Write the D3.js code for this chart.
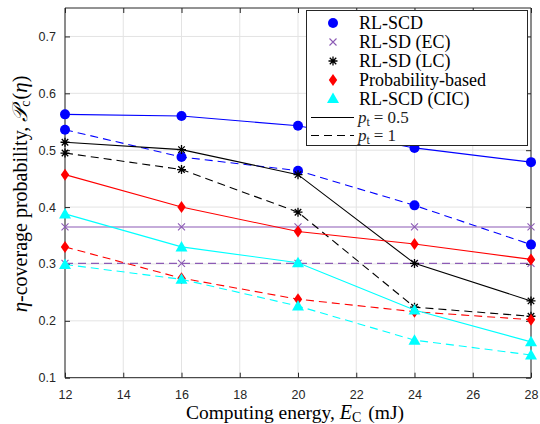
<!DOCTYPE html>
<html>
<head>
<meta charset="utf-8">
<script src="https://cdn.jsdelivr.net/npm/d3@7"></script>
<style>
  html, body { margin: 0; padding: 0; background: #fff; }
  svg { display: block; }
</style>
</head>
<body>
<svg id="chart" width="540" height="424"></svg>
<script>
// Computing energy levels (mJ)
const energy = [12, 16, 20, 24, 28];

// RL-SCD
const rlscdHalf = [0.563, 0.560, 0.543, 0.504, 0.479];
const rlscdOne  = [0.536, 0.488, 0.464, 0.403, 0.334];
// RL-SD (EC)
const ecHalf = [0.365, 0.365, 0.365, 0.365, 0.365];
const ecOne  = [0.301, 0.301, 0.301, 0.301, 0.301];
// RL-SD (LC)
const lcHalf = [0.514, 0.501, 0.457, 0.301, 0.235];
const lcOne  = [0.495, 0.466, 0.391, 0.224, 0.208];
// Probability-based
const probHalf = [0.457, 0.400, 0.357, 0.335, 0.308];
const probOne  = [0.330, 0.275, 0.238, 0.216, 0.202];
// RL-SCD (CIC)
const cicHalf = [0.388, 0.330, 0.302, 0.219, 0.163];
const cicOne  = [0.299, 0.273, 0.226, 0.166, 0.140];

const xTicks = [12, 14, 16, 18, 20, 22, 24, 26, 28];
const yTicks = [0.1, 0.2, 0.3, 0.4, 0.5, 0.6, 0.7];

const methods = [
  { name: "RL-SCD", color: "#0000ff", marker: "circle", half: rlscdHalf, one: rlscdOne },
  { name: "RL-SD (EC)", color: "#8c5bb5", marker: "x", half: ecHalf, one: ecOne },
  { name: "RL-SD (LC)", color: "#000000", marker: "asterisk", half: lcHalf, one: lcOne },
  { name: "Probability-based", color: "#ff0000", marker: "diamond", half: probHalf, one: probOne },
  { name: "RL-SCD (CIC)", color: "#00ffff", marker: "triangle", half: cicHalf, one: cicOne }
];

const svg = d3.select("#chart");
const pLeft = 65, pRight = 531, pTop = 8, pBottom = 377.7;

const x = d3.scaleLinear().domain([12, 28]).range([pLeft, pRight]);
const y = d3.scaleLinear().domain([0.1, 0.75]).range([pBottom, pTop]);

const serif = "'Liberation Serif', 'Times New Roman', serif";
const sans = "'Liberation Sans', Arial, sans-serif";

// grid
svg.append("g").selectAll("line").data(xTicks).join("line")
  .attr("x1", d => x(d)).attr("x2", d => x(d))
  .attr("y1", pTop).attr("y2", pBottom)
  .attr("stroke", "#e3e3e3").attr("stroke-width", 1);
svg.append("g").selectAll("line").data(yTicks).join("line")
  .attr("x1", pLeft).attr("x2", pRight)
  .attr("y1", d => y(d)).attr("y2", d => y(d))
  .attr("stroke", "#e3e3e3").attr("stroke-width", 1);

// axes with inward ticks on all four sides
const axB = svg.append("g").attr("transform", `translate(0,${pBottom})`)
  .call(d3.axisBottom(x).tickValues(xTicks).tickSize(-5).tickPadding(12).tickFormat(d3.format("d")));
const axT = svg.append("g").attr("transform", `translate(0,${pTop})`)
  .call(d3.axisTop(x).tickValues(xTicks).tickSize(-5).tickFormat(""));
const axL = svg.append("g").attr("transform", `translate(${pLeft},0)`)
  .call(d3.axisLeft(y).tickValues(yTicks).tickSize(-5).tickPadding(9).tickFormat(d3.format(".1f")));
const axR = svg.append("g").attr("transform", `translate(${pRight},0)`)
  .call(d3.axisRight(y).tickValues(yTicks).tickSize(-5).tickFormat(""));
[axB, axT, axL, axR].forEach(a => {
  a.select(".domain").attr("stroke", "#262626").attr("stroke-width", 1);
  a.selectAll(".tick line").attr("stroke", "#262626");
  a.selectAll(".tick text").attr("font-family", sans).attr("font-size", 12.5).attr("fill", "#262626");
});
axB.select(".domain").attr("d", `M${pLeft},0H${pRight}`);
axT.select(".domain").attr("d", `M${pLeft},0H${pRight}`);
axL.select(".domain").attr("d", `M0,${pTop}V${pBottom}`);
axR.select(".domain").attr("d", `M0,${pTop}V${pBottom}`);

// markers
function drawMarker(g, type, color, cx, cy, scale = 1) {
  if (type === "circle") {
    g.append("circle").attr("cx", cx).attr("cy", cy).attr("r", 5 * scale).attr("fill", color);
  } else if (type === "diamond") {
    const s = 6 * scale;
    g.append("path").attr("d", `M${cx},${cy - s}L${cx + s * 0.7},${cy}L${cx},${cy + s}L${cx - s * 0.7},${cy}Z`).attr("fill", color);
  } else if (type === "triangle") {
    const s = 6 * scale;
    g.append("path").attr("d", `M${cx},${cy - s}L${cx + s},${cy + s * 0.75}L${cx - s},${cy + s * 0.75}Z`).attr("fill", color);
  } else if (type === "x") {
    const s = 3.5 * scale;
    g.append("path").attr("d", `M${cx - s},${cy - s}L${cx + s},${cy + s}M${cx - s},${cy + s}L${cx + s},${cy - s}`)
      .attr("stroke", color).attr("stroke-width", 1.1);
  } else if (type === "asterisk") {
    const s = 4.5 * scale, d = s * 0.72;
    g.append("path").attr("d",
      `M${cx - s},${cy}L${cx + s},${cy}M${cx},${cy - s}L${cx},${cy + s}` +
      `M${cx - d},${cy - d}L${cx + d},${cy + d}M${cx - d},${cy + d}L${cx + d},${cy - d}`)
      .attr("stroke", color).attr("stroke-width", 1.3);
  }
}

const line = d3.line().x(d => x(d[0])).y(d => y(d[1]));
const plot = svg.append("g");
methods.forEach(m => {
  [["half", null], ["one", "8,5"]].forEach(([key, dash]) => {
    const pts = energy.map((e, i) => [e, m[key][i]]);
    plot.append("path").datum(pts).attr("d", line)
      .attr("fill", "none").attr("stroke", m.color).attr("stroke-width", 1.1)
      .attr("stroke-dasharray", dash);
    const mg = plot.append("g");
    pts.forEach(p => drawMarker(mg, m.marker, m.color, x(p[0]), y(p[1])));
  });
});

// legend
const lg = svg.append("g");
lg.append("rect").attr("x", 306.5).attr("y", 10.5).attr("width", 221).attr("height", 135)
  .attr("fill", "#fff").attr("stroke", "#262626").attr("stroke-width", 1);
const rowY = [23, 42, 61, 80, 98.5];
methods.forEach((m, i) => {
  drawMarker(lg, m.marker, m.color, 333, rowY[i], 1);
  lg.append("text").attr("x", 359).attr("y", rowY[i] + 6)
    .attr("font-family", serif).attr("font-size", 18).attr("fill", "#000").text(m.name);
});
[[117.5, null, "0.5"], [135.5, "8,5", "1"]].forEach(([ly, dash, val]) => {
  lg.append("line").attr("x1", 311).attr("x2", 354).attr("y1", ly).attr("y2", ly)
    .attr("stroke", "#000").attr("stroke-width", 1.1).attr("stroke-dasharray", dash);
  const t = lg.append("text").attr("x", 358).attr("y", ly + 5)
    .attr("font-family", serif).attr("font-size", 17).attr("fill", "#222");
  t.append("tspan").attr("font-style", "italic").text("p");
  t.append("tspan").attr("font-size", 12).attr("dy", 3).text("t");
  t.append("tspan").attr("dy", -3).attr("dx", 4).text("=");
  t.append("tspan").attr("dx", 4).text(val);
});

// axis titles
const xl = svg.append("text").attr("x", 295).attr("y", 419).attr("text-anchor", "middle")
  .attr("font-family", serif).attr("font-size", 19.5).attr("fill", "#000");
xl.append("tspan").text("Computing energy, ");
xl.append("tspan").attr("font-style", "italic").attr("font-size", 20).text("E");
xl.append("tspan").attr("font-size", 14).attr("dy", 3).text("C");
xl.append("tspan").attr("dy", -3).attr("dx", 7).text("(mJ)");

const yl = svg.append("text").attr("transform", `translate(26.5,194) rotate(-90)`)
  .attr("text-anchor", "middle").attr("font-family", serif).attr("font-size", 20).attr("fill", "#000");
yl.append("tspan").attr("font-style", "italic").attr("font-size", 21).text("η");
yl.append("tspan").text("-coverage probability, ");
yl.append("tspan").attr("font-style", "italic").attr("font-size", 21).text("𝒫");
yl.append("tspan").attr("font-size", 14).attr("dy", 3).text("c");
yl.append("tspan").attr("dy", -3).attr("dx", 1).text("(");
yl.append("tspan").attr("font-style", "italic").attr("font-size", 21).text("η");
yl.append("tspan").text(")");
</script>
</body>
</html>
